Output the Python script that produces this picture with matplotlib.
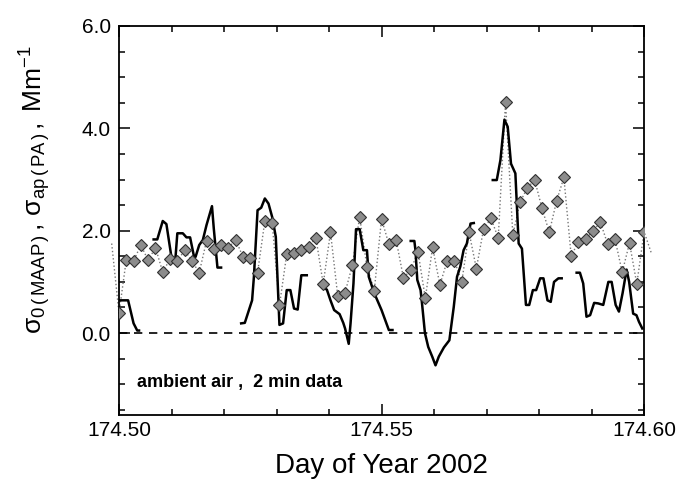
import numpy as np
import matplotlib.pyplot as plt
from matplotlib.ticker import MultipleLocator, FormatStrFormatter

plt.rcParams['font.family'] = ['Liberation Sans', 'DejaVu Sans']
plt.rcParams['mathtext.fontset'] = 'custom'
plt.rcParams['mathtext.rm'] = 'Liberation Sans'
plt.rcParams['mathtext.it'] = 'Liberation Sans'

# minutes after day 174.50
pa_min = [0, 2, 4, 6, 8, 10, 12, 14, 16, 18, 20, 22, 24, 26, 28, 30, 32, 34, 36, 38,
          40, 42, 44, 46, 48, 50, 52, 54, 56, 58, 60, 62, 64, 66, 68, 70, 72, 74, 76, 78,
          80, 82, 84, 86, 88, 90, 92, 94, 96, 98, 100, 102, 104, 106, 108, 110, 112, 114,
          116, 118, 120, 122, 124, 126, 128, 130, 132, 134, 136, 138, 140, 142, 144]
# sigma_ap (PA), diamonds
pa_val = [0.39, 1.43, 1.41, 1.72, 1.42, 1.67, 1.19, 1.45, 1.41, 1.62, 1.41, 1.18, 1.80,
          1.65, 1.72, 1.67, 1.82, 1.49, 1.46, 1.18, 2.19, 2.15, 0.54, 1.54, 1.56, 1.62,
          1.69, 1.86, 0.96, 1.97, 0.72, 0.79, 1.33, 2.27, 1.29, 0.83, 2.23, 1.74, 1.82,
          1.08, 1.23, 1.59, 0.68, 1.68, 0.94, 1.41, 1.41, 1.00, 1.97, 1.26, 2.04, 2.24,
          1.86, 4.52, 1.92, 2.56, 2.84, 2.99, 2.44, 1.97, 2.58, 3.04, 1.51, 1.78, 1.84,
          1.99, 2.17, 1.74, 1.84, 1.19, 1.76, 0.96, 1.98]
# neighbours just outside the plotted interval (dotted line runs out of the frame)
pa_min_out = [-2, 146]
pa_val_out = [1.75, 1.56]

# sigma_0 (MAAP), solid line, nan = gap
maap_min = [0, 2.5, 4, 5, 5.5, np.nan,
            9.5, 10.5, 12, 13, 14.5, 15.5, 16, 17.5, 18.5, 19.5, 20.5, 21, 22, 23, 24,
            25.5, 26, 27, 28, np.nan,
            33.5, 34.5, 36.5, 37, 38, 39, 40, 41, 42, 43, 44, 45, 46, 47, 48, 49, 50, 51.5,
            np.nan,
            56, 57, 58, 59, 60.5, 61.5, 62, 63, 63.5, 64.3, 65, 66, 67, 68, 68.5, 70, 72,
            74, 75, np.nan,
            80, 81, 81.3, 81.8, 82.7, 83.1, 83.9, 84.8, 85.9, 86.8, 87.7, 89.1, 90.6, 91.8,
            92.7, 93.6, 94.5, 95.4, 96.4, 97.3, np.nan,
            102.5, 103.6, 104.6, 105.7, 106.6, 107.5, 108.7, 109.6, 110.5, 111.6, 112.5,
            113.5, 114.4, 115.5, 116.4, 117.5, 118.4, 119.3, 120.5, 121.4, np.nan,
            125.5, 126.4, 127.3, 128.2, 129.2, 130.3, 131.4, 132.8, 134.2, 135.1, 136.2,
            137.1, 138.1, 139.2, 139.9, 141.0, 141.9, 142.6, 143.5]
maap_val = [0.64, 0.64, 0.19, 0.05, 0.05, np.nan,
            1.83, 1.83, 2.19, 2.13, 1.43, 1.48, 1.95, 1.95, 1.87, 1.87, 1.52, 1.49, 1.72,
            1.82, 2.11, 2.48, 2.04, 1.28, 1.28, np.nan,
            0.19, 0.20, 0.64, 1.10, 2.40, 2.45, 2.63, 2.53, 2.27, 1.88, 0.16, 0.19, 0.84,
            0.84, 0.48, 0.46, 1.13, 1.13, np.nan,
            0.89, 0.85, 0.64, 0.45, 0.37, 0.20, 0.09, -0.21, 0.19, 0.97, 2.03, 2.03, 1.62,
            1.62, 1.10, 0.78, 0.45, 0.06, 0.06, np.nan,
            1.80, 1.80, 1.62, 1.04, 0.84, 0.58, 0.00, -0.27, -0.46, -0.63, -0.46, -0.28,
            -0.14, 0.51, 1.10, 1.30, 1.62, 1.75, 2.14, 2.15, np.nan,
            2.99, 2.99, 3.38, 4.17, 4.03, 3.31, 3.12, 1.75, 1.65, 0.55, 0.55, 0.84, 0.84,
            1.07, 1.07, 0.64, 0.61, 1.00, 1.07, 1.07, np.nan,
            1.18, 1.18, 0.97, 0.32, 0.35, 0.59, 0.58, 0.55, 1.00, 1.00, 0.55, 0.42, 0.78,
            1.24, 1.00, 0.38, 0.35, 0.22, 0.09]

day0 = 174.50
pa_day = day0 + np.array(pa_min) / 1440.0
maap_day = day0 + np.array(maap_min) / 1440.0
line_day = day0 + np.array(pa_min_out[:1] + pa_min + pa_min_out[1:]) / 1440.0
line_val = pa_val_out[:1] + pa_val + pa_val_out[1:]

fig = plt.figure(figsize=(6.78, 4.84), dpi=100)
ax = fig.add_axes([0.1755, 0.1426, 0.7745, 0.8037])

ax.axhline(0, color='black', lw=1.2, ls=(0, (5, 4)), zorder=1)
ax.plot(line_day, line_val, ls=':', color='#777777', lw=1.0, clip_on=False, zorder=2)
ax.plot(pa_day, pa_val, ls='none', marker='D', ms=6.5, mfc='#8c8c8c', mec='#303030',
        mew=0.8, zorder=4)
ax.plot(maap_day, maap_val, color='black', lw=1.8, zorder=3)

ax.text(174.5034, -0.96, 'ambient air ,  2 min data', fontsize=13, fontweight='bold',
        va='center', ha='left')

ax.set_xlim(174.50, 174.60)
ax.set_ylim(-1.6, 6.0)
ax.xaxis.set_major_locator(MultipleLocator(0.05))
ax.xaxis.set_minor_locator(MultipleLocator(0.01))
ax.xaxis.set_major_formatter(FormatStrFormatter('%.2f'))
ax.yaxis.set_major_locator(MultipleLocator(2.0))
ax.yaxis.set_minor_locator(MultipleLocator(0.5))
ax.yaxis.set_major_formatter(FormatStrFormatter('%.1f'))
ax.tick_params(which='both', direction='in', top=True, right=True, labelsize=15,
               width=1.1)
ax.tick_params(which='major', length=8)
ax.tick_params(axis='x', which='major', pad=4)
ax.tick_params(axis='y', which='major', pad=6)
ax.tick_params(which='minor', length=4)
for s in ax.spines.values():
    s.set_linewidth(1.3)

ax.set_xlabel('Day of Year 2002', fontsize=20, labelpad=10)
ax.set_ylabel(r'$\mathregular{σ_{0\,(\,MAAP\,)}\,,\,σ_{ap\,(\,PA\,)}\,,\;Mm^{-1}}$',
              fontsize=19)
ax.yaxis.set_label_coords(-0.125, 0.58)

fig.savefig('out.png', dpi=100)
